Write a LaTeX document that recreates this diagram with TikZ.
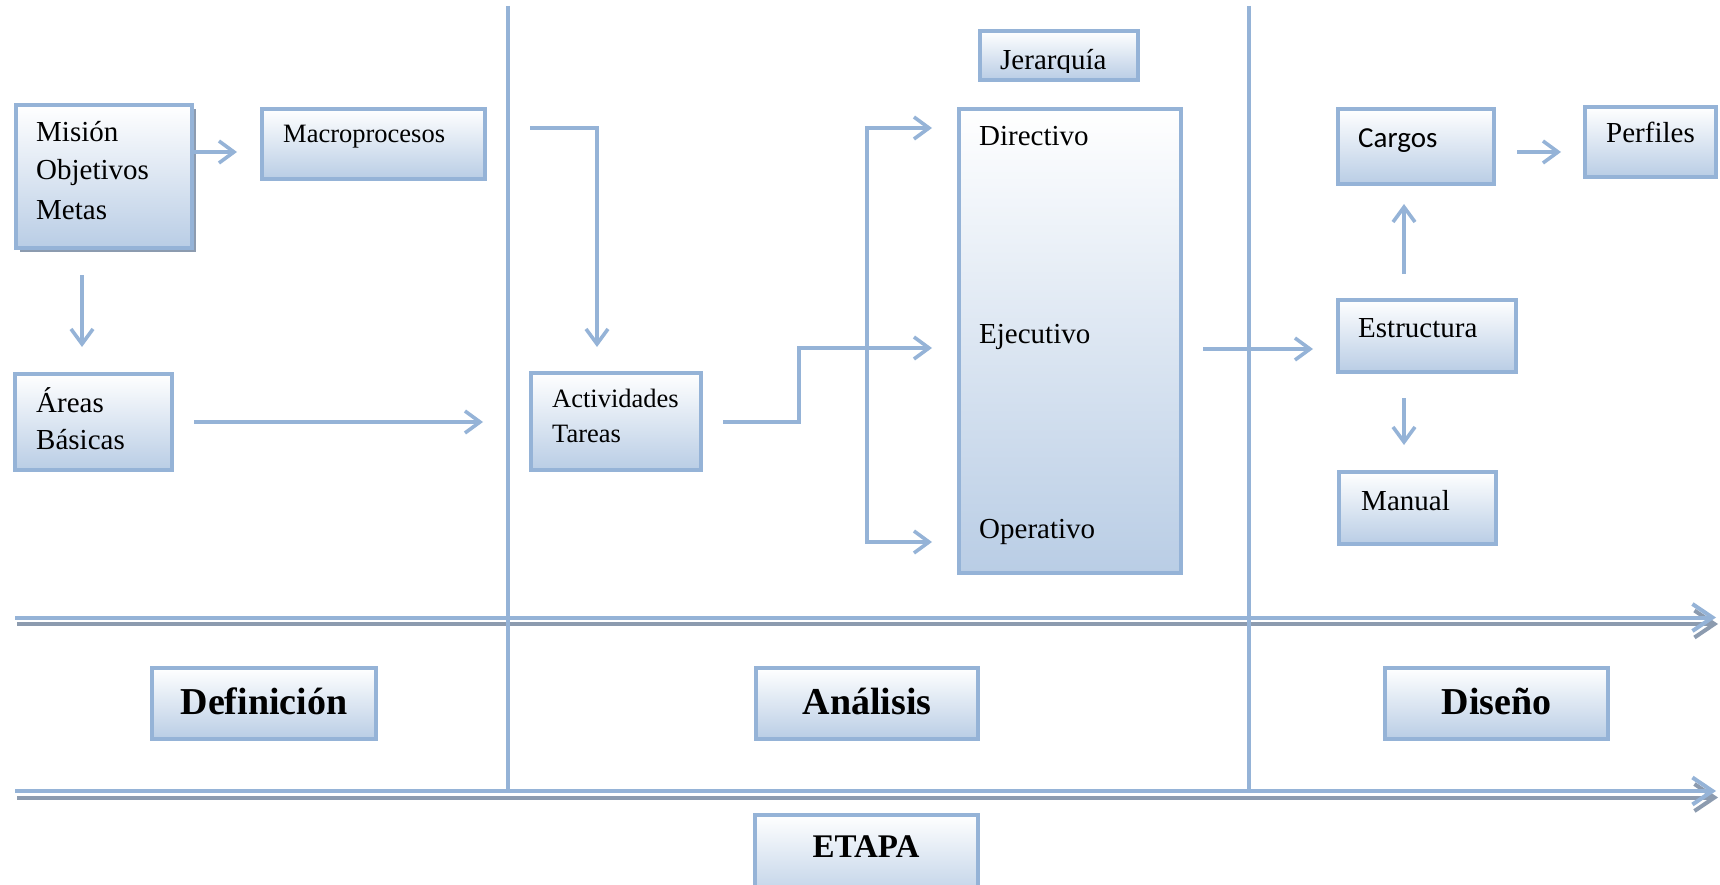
\documentclass[tikz,border=0pt]{standalone}
\usepackage{fontspec}
\setmainfont{Liberation Serif}
\newfontfamily\calibrifont{Carlito}
\usetikzlibrary{arrows.meta,shadows}

\definecolor{lineblue}{HTML}{95B3D7}
\definecolor{fillblue}{HTML}{B9CDE5}
\definecolor{shadegrey}{HTML}{8C9BAF}

\tikzset{
  box/.style={draw=lineblue, line width=4pt, top color=white, bottom color=fillblue,
    anchor=north west, inner sep=0pt, outer sep=0pt},
  lbl/.style={anchor=base west, inner sep=0pt, font=\fontsize{29}{35}\selectfont},
  lblsmall/.style={anchor=base west, inner sep=0pt, font=\fontsize{26.5}{32}\selectfont},
  stage/.style={anchor=base, inner sep=0pt, font=\fontsize{38}{44}\selectfont\bfseries},
  conn/.style={draw=lineblue, line width=3.6pt, -{Straight Barb[length=15pt,width=22pt]}},
  fork/.style={draw=lineblue, line width=3.6pt,
    {Straight Barb[length=15pt,width=22pt]}-{Straight Barb[length=15pt,width=22pt]}},
  divider/.style={draw=lineblue, line width=3.4pt},
  axis/.style={line width=4pt, -{Straight Barb[length=20pt,width=27pt]}},
}

\begin{document}
\begin{tikzpicture}[x=1pt, y=-1pt]
\useasboundingbox (0,0) rectangle (1720,885);
\clip (0,0) rectangle (1720,885);

% stage axes (blue line with grey shadow)
\draw[axis, shadegrey] (17,624) -- (1718,624);
\draw[axis, lineblue] (15,617.5) -- (1716,617.5);
\draw[axis, shadegrey] (17,797.5) -- (1718,797.5);
\draw[axis, lineblue] (15,791) -- (1716,791);

% column dividers
\draw[divider] (508,6) coordinate (div1top) -- (508,790) coordinate (div1bot);
\draw[divider] (1249,6) coordinate (div2top) -- (1249,790) coordinate (div2bot);

% Definición column
\node[box, minimum width=176pt, minimum height=143pt,
  drop shadow={shadow xshift=4pt, shadow yshift=-4pt, fill=shadegrey, opacity=1}]
  (mision) at (16,105) {};
\node[box, minimum width=223pt, minimum height=70pt] (macro) at (262,109) {};
\node[box, minimum width=157pt, minimum height=96pt] (areas) at (15,374) {};

\node[lbl] (tmision) at (36,142) {Misión};
\node[lbl] (tobjet) at (36,180) {Objetivos};
\node[lbl] (tmetas) at (36,220) {Metas};
\node[lblsmall] (tmacro) at (283,143) {Macroprocesos};
\node[lbl] (tareas) at (36,412) {Áreas};
\node[lbl] (tbasicas) at (36,449) {Básicas};

% Análisis column
\node[box, minimum width=170pt, minimum height=97pt] (activ) at (531,373) {};
\node[box, minimum width=158pt, minimum height=49pt] (jer) at (980,31) {};
\node[box, minimum width=222pt, minimum height=464pt] (hier) at (959,109) {};

\node[lblsmall] (tactiv) at (552,407) {Actividades};
\node[lblsmall] (ttareas) at (552,442) {Tareas};
\begin{scope}
  \clip (982,33) rectangle (1136,73);
  \node[lbl] (tjer) at (1000,70) {Jerarquía};
\end{scope}
\node[lbl] (tdir) at (979,146) {Directivo};
\node[lbl] (tejec) at (979,343) {Ejecutivo};
\node[lbl] (toper) at (979,538) {Operativo};

% Diseño column
\node[box, minimum width=156pt, minimum height=75pt] (cargos) at (1338,109) {};
\node[box, minimum width=131pt, minimum height=70pt] (perfiles) at (1585,107) {};
\node[box, minimum width=178pt, minimum height=72pt] (estruct) at (1338,300) {};
\node[box, minimum width=157pt, minimum height=72pt] (manual) at (1339,472) {};

\node[lbl, font=\fontsize{29}{35}\selectfont\calibrifont] (tcargos) at (1358,148) {Cargos};
\node[lbl] (tperfiles) at (1606,143) {Perfiles};
\node[lbl] (testruct) at (1358,337) {Estructura};
\node[lbl] (tmanual) at (1361,510) {Manual};

% stage labels
\node[box, minimum width=224pt, minimum height=71pt] (def) at (152,668) {};
\node[box, minimum width=222pt, minimum height=71pt] (anal) at (756,668) {};
\node[box, minimum width=223pt, minimum height=71pt] (dise) at (1385,668) {};
\node[box, minimum width=223pt, minimum height=90pt] (etapa) at (755,815) {};

\node[stage] (tdef) at (def.center |- 0,714) {Definición};
\node[stage] (tanal) at (anal.center |- 0,714) {Análisis};
\node[stage] (tdise) at (dise.center |- 0,714) {Diseño};
\node[stage, font=\fontsize{33}{40}\selectfont\bfseries] (tetapa) at (866,857) {ETAPA};

% connector ends
\coordinate (macroIn) at (237,152);
\coordinate (areasIn) at (82,347);
\coordinate (activFromAreas) at (483,422);
\coordinate (macroOut) at (530,128);
\coordinate (activIn) at (597,347);
\coordinate (activOut) at (723,422);
\coordinate (stepX) at (799,348);
\coordinate (ejecIn) at (932,348);
\coordinate (forkX) at (867,0);
\coordinate (dirIn) at (932,128);
\coordinate (operIn) at (932,542);
\coordinate (hierOut) at (1203,349);
\coordinate (estructIn) at (1313,349);
\coordinate (cargosIn) at (1404,204);
\coordinate (estructUp) at (1404,274);
\coordinate (estructDown) at (1404,398);
\coordinate (manualIn) at (1404,445);
\coordinate (cargosOut) at (1517,152);
\coordinate (perfilesIn) at (1561,152);

% connectors
\draw[conn] (mision.east |- macroIn) -- (macroIn);
\draw[conn] (areasIn |- 0,275) -- (areasIn);
\draw[conn] (areas.east |- activFromAreas) ++(22,0) -- (activFromAreas);
\draw[conn] (macroOut) -| (activIn);
\draw[conn] (activOut) -| (stepX) -- (ejecIn);
\draw[fork] (dirIn) -- (forkX |- dirIn) -- (forkX |- operIn) -- (operIn);
\draw[conn] (hierOut) -- (estructIn);
\draw[conn] (estructUp) -- (cargosIn);
\draw[conn] (estructDown) -- (manualIn);
\draw[conn] (cargosOut) -- (perfilesIn);
\end{tikzpicture}
\end{document}
